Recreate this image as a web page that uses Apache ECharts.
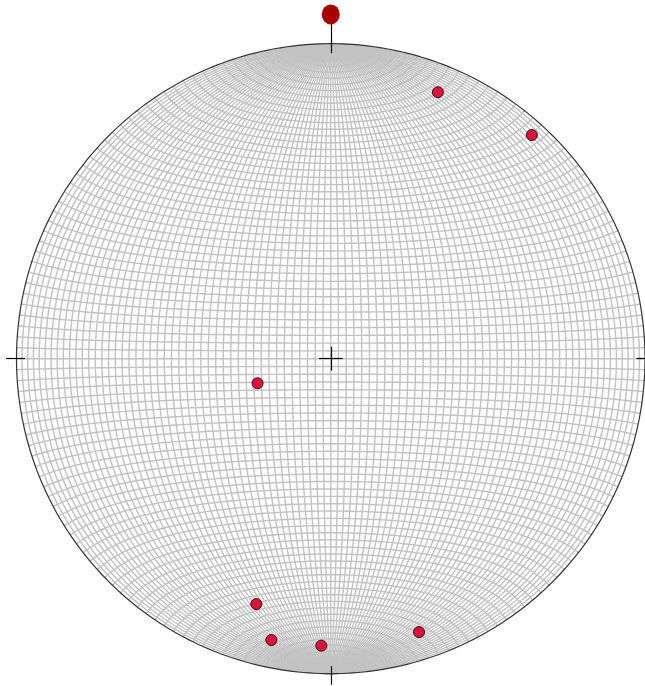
<!DOCTYPE html>
<html>
<head>
<meta charset="utf-8">
<script src="https://cdn.jsdelivr.net/npm/echarts@6/dist/echarts.min.js"></script>
<style>
  html, body { margin: 0; padding: 0; background: #fff; }
  #chart { width: 645px; height: 686px; }
</style>
</head>
<body>
<div id="chart"></div>
<script>
// measured poles, in net units (circle radius = 1)
var poleX = [0.341, 0.640, -0.233, -0.237, -0.189, -0.030, 0.281];
var poleY = [0.846, 0.710, -0.078, -0.779, -0.893, -0.911, -0.868];
// north marker
var northMark = [[0, 1.093]];
var gridStep = 2; // degrees between net lines

// equal-area (Schmidt) projection of lon/lat, scaled to unit circle
function proj(lon, lat) {
    var l = lon * Math.PI / 180, p = lat * Math.PI / 180;
    var d = Math.sqrt(1 + Math.cos(p) * Math.cos(l));
    if (d < 1e-9) return [0, 0];
    return [Math.cos(p) * Math.sin(l) / d, Math.sin(p) / d];
}

var netLines = [];
// great circles
for (var lon = -90 + gridStep; lon < 90; lon += gridStep) {
    var c = [];
    for (var lat = -90; lat <= 90; lat += 1) c.push(proj(lon, lat));
    netLines.push({ coords: c });
}
// small circles
for (var lat = -90 + gridStep; lat < 90; lat += gridStep) {
    var c = [];
    for (var lon = -90; lon <= 90; lon += 1) c.push(proj(lon, lat));
    netLines.push({ coords: c });
}

var outline = [];
for (var a = 0; a <= 360; a += 1) {
    outline.push([Math.cos(a * Math.PI / 180), Math.sin(a * Math.PI / 180)]);
}

var ticks = [
    { coords: [[-0.038, 0], [0.038, 0]] },
    { coords: [[0, -0.038], [0, 0.038]] },
    { coords: [[-1.033, 0], [-0.973, 0]] },
    { coords: [[0.973, 0], [1.033, 0]] },
    { coords: [[0, 0.97], [0, 1.07]] },
    { coords: [[0, -0.976], [0, -1.035]] }
];

var chart = echarts.init(document.getElementById('chart'));
chart.setOption({
    animation: false,
    grid: { left: 16.5, top: 43.7, width: 630, height: 630 },
    xAxis: { type: 'value', min: -1, max: 1, show: false },
    yAxis: { type: 'value', min: -1, max: 1, show: false },
    series: [
        {
            type: 'lines',
            coordinateSystem: 'cartesian2d',
            polyline: true,
            silent: true,
            lineStyle: { color: '#c2c2c2', width: 1.4, opacity: 1 },
            data: netLines,
            clip: false
        },
        {
            type: 'lines',
            coordinateSystem: 'cartesian2d',
            polyline: true,
            silent: true,
            lineStyle: { color: '#333', width: 1.2, opacity: 1 },
            data: [{ coords: outline }],
            clip: false
        },
        {
            type: 'lines',
            coordinateSystem: 'cartesian2d',
            silent: true,
            lineStyle: { color: '#000', width: 1.2, opacity: 1 },
            data: ticks,
            clip: false
        },
        {
            type: 'scatter',
            symbol: 'circle',
            symbolSize: [18, 20],
            itemStyle: { color: '#a80000', opacity: 1 },
            data: northMark,
            clip: false
        },
        {
            type: 'scatter',
            symbol: 'circle',
            symbolSize: 11,
            itemStyle: { color: '#dc143c', borderColor: '#3a0a14', borderWidth: 1, opacity: 1 },
            data: poleX.map(function (x, i) { return [x, poleY[i]]; }),
            clip: false
        }
    ]
});
</script>
</body>
</html>
